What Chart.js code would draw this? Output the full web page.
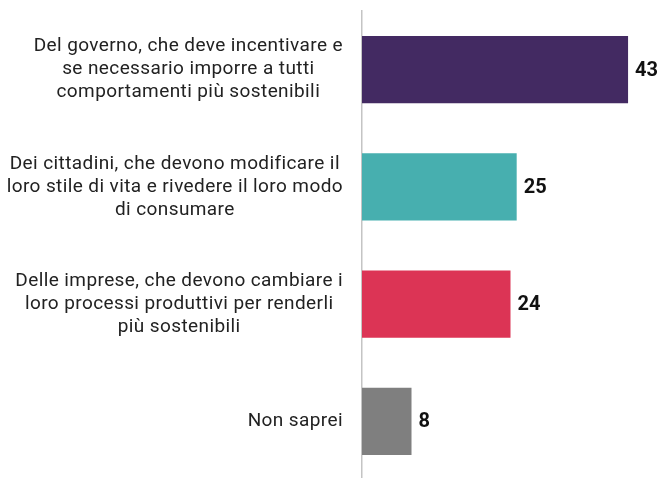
<!DOCTYPE html>
<html>
<head>
<meta charset="utf-8">
<script src="https://cdn.jsdelivr.net/npm/chart.js@4/dist/chart.umd.min.js"></script>
<style>
  html, body { margin: 0; padding: 0; background: #fff; overflow: hidden; }
  #wrap { width: 664px; height: 480px; }
</style>
</head>
<body>
<div id="wrap"><canvas id="myChart"></canvas></div>
<script>
// Data
const categories = [
    ['Del governo, che deve incentivare e', 'se necessario imporre a tutti', 'comportamenti più sostenibili'],
    ['Dei cittadini, che devono modificare il', 'loro stile di vita e rivedere il loro modo', 'di consumare'],
    ['Delle imprese, che devono cambiare i', 'loro processi produttivi per renderli', 'più sostenibili'],
    ['Non saprei']
];
const values = [43, 25, 24, 8];
const barColors = ['#432a62', '#47afaf', '#dc3455', '#7f7f7f'];

const labelFont = '19px Roboto';
const labelLineHeight = 23;

// Category labels: each block right-aligned, lines centred inside the block
const categoryLabels = {
    id: 'categoryLabels',
    afterDraw(chart) {
        const ctx = chart.ctx;
        const yScale = chart.scales.y;
        const right = chart.chartArea.left - 19;
        ctx.save();
        ctx.font = labelFont;
        ctx.letterSpacing = '0.4px';
        ctx.fillStyle = '#222';
        ctx.textAlign = 'center';
        ctx.textBaseline = 'middle';
        categories.forEach((lines, i) => {
            const blockWidth = Math.max(...lines.map(l => ctx.measureText(l).width));
            const cx = right - blockWidth / 2;
            const cy = yScale.getPixelForValue(i);
            const top = cy - (lines.length - 1) * labelLineHeight / 2;
            lines.forEach((line, j) => {
                ctx.fillText(line, cx, top + j * labelLineHeight);
            });
        });
        ctx.restore();
    }
};

// Value labels at the end of each bar
const valueLabels = {
    id: 'valueLabels',
    afterDatasetsDraw(chart) {
        const ctx = chart.ctx;
        const meta = chart.getDatasetMeta(0);
        ctx.save();
        ctx.font = 'bold 20px Roboto';
        ctx.fillStyle = '#111';
        ctx.textAlign = 'left';
        ctx.textBaseline = 'middle';
        meta.data.forEach((bar, i) => {
            ctx.fillText(String(values[i]), bar.x + 7, bar.y + 1);
        });
        ctx.restore();
    }
};

const ctx = document.getElementById('myChart').getContext('2d');
const myChart = new Chart(ctx, {
    type: 'bar',
    data: {
        labels: categories,
        datasets: [
            {
                data: values,
                backgroundColor: barColors,
                borderWidth: 0,
                categoryPercentage: 1,
                barPercentage: 0.573
            }
        ]
    },
    options: {
        indexAxis: 'y',
        responsive: true,
        maintainAspectRatio: false,
        animation: false,
        layout: {
            padding: { left: 362, right: 5, top: 11, bottom: 0 }
        },
        scales: {
            x: {
                display: false,
                min: 0,
                max: 48
            },
            y: {
                ticks: { display: false },
                grid: { display: false, drawTicks: false },
                border: { display: true, color: '#c4c4c4', width: 1.5 }
            }
        },
        plugins: {
            legend: { display: false },
            tooltip: { enabled: false }
        }
    },
    plugins: [categoryLabels, valueLabels]
});
</script>
</body>
</html>
